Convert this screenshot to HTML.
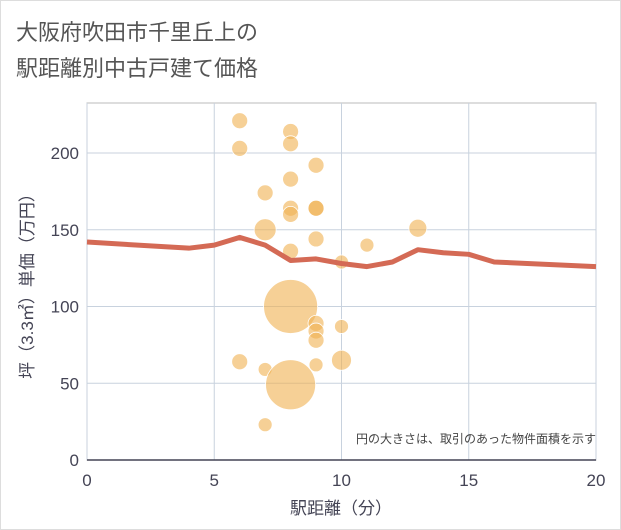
<!DOCTYPE html>
<html><head><meta charset="utf-8"><style>
body{margin:0;background:#fff}
svg{display:block;font-family:"Liberation Sans","Noto Sans CJK JP",sans-serif}
</style></head><body>
<svg id="c" width="621" height="530">
<rect x="0.5" y="0.5" width="620" height="529" fill="#fff" stroke="#ddd"/>
<text x="16" y="40" font-size="22" fill="#555">大阪府吹田市千里丘上の</text>
<text x="16" y="76" font-size="22" fill="#555">駅距離別中古戸建て価格</text>
<g id="grid"></g><g id="marks"></g><g id="axes"></g>
<text x="596" y="443" font-size="12" fill="#444" text-anchor="end">円の大きさは、取引のあった物件面積を示す</text>
<text x="341" y="514" font-size="17" fill="#445" text-anchor="middle">駅距離（分）</text>
<text transform="translate(33,282) rotate(-90)" font-size="17" fill="#445" text-anchor="middle">坪（3.3㎡）単価（万円）</text>
</svg>
<script>
const xTicks=[0,5,10,15,20];
const yTicks=[0,50,100,150,200];
const lineX=[0,4,5,6,7,8,9,10,11,12,13,14,15,16,20];
const lineY=[142,138,140,145,140,130,131,128,126,129,137,135,134,129,126];
const ptX=[6,6,8,8,9,8,7,8,8,9,9,7,9,8,10,11,13,8,9,9,9,10,6,10,7,9,8,7];
const ptY=[221,203,214,206,192,183,174,164,160,164,164,150,144,136,129,140,151,100,89,84,78,87,64,65,59,62,49,23];
const ptR=[8,8,8,8,8,8,8,8,8,8,8,11,8,8,7,7,9,27,8,8,8,7,8,10,7,7,25,7];
const L=87,R=596,T=103,B=460;
const sx=v=>L+(v-0)/(20-0)*(R-L);
const sy=v=>B-v*(153-460)/-200;
const NS="http://www.w3.org/2000/svg";
function mk(t,a,p){const e=document.createElementNS(NS,t);for(const k in a)e.setAttribute(k,a[k]);p.appendChild(e);return e;}
const g=document.getElementById('grid'),m=document.getElementById('marks'),ax=document.getElementById('axes');
const bg=mk('rect',{x:L,y:T,width:R-L,height:B-T,fill:'#fff',stroke:'#bbb'},g);


xTicks.forEach(v=>{
 const l=mk('line',{x1:sx(v),x2:sx(v),y1:T,y2:B,stroke:'#c8d2de'},g);
 
 
 const t=mk('text',{x:sx(v),y:486,'font-size':17,fill:'#445','text-anchor':'middle'},ax);t.textContent=v;
 
 
});
yTicks.forEach(v=>{
 const l=mk('line',{x1:L,x2:R,y1:sy(v),y2:sy(v),stroke:'#c8d2de'},g);
 
 
 const t=mk('text',{x:79,y:sy(v)+6,'font-size':17,fill:'#445','text-anchor':'end'},ax);t.textContent=v;
 
 
});
const al=mk('line',{x1:L,x2:R,y1:B,y2:B,stroke:'#445','stroke-width':1.5},ax);


ptX.forEach((v,i)=>{
 const c=mk('circle',{cx:sx(v),cy:sy(ptY[i]),r:ptR[i],fill:'#f0b050','fill-opacity':0.6,stroke:'#fff','stroke-width':0.8},m);
 
 
});
const pl=mk('polyline',{points:lineX.map((v,i)=>sx(v)+','+sy(lineY[i])).join(' '),fill:'none',stroke:'#d46a55','stroke-width':5,'stroke-linejoin':'round'},m);


</script>
</body></html>
